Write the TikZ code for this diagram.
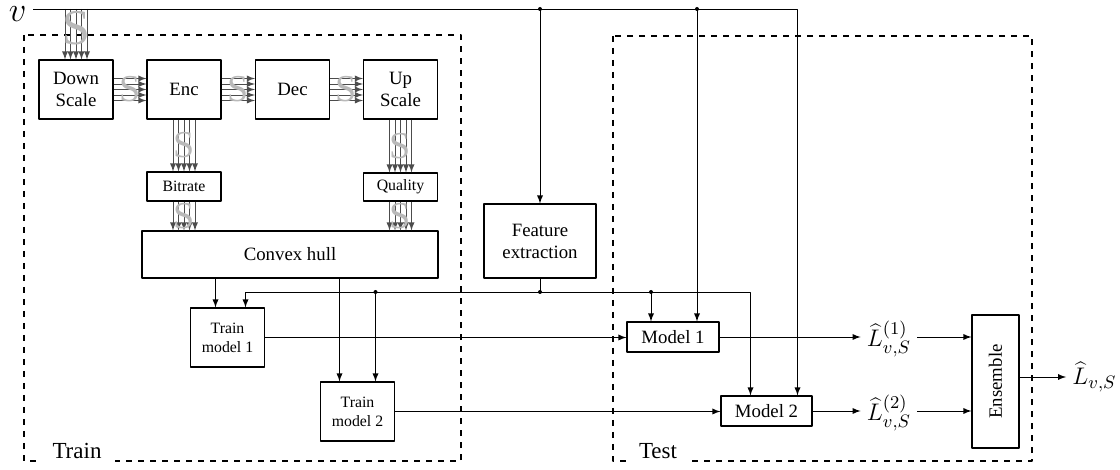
\documentclass[tikz,border=0pt]{standalone}
\usepackage{fontspec}
\setmainfont{Liberation Serif}
\begin{document}
\begin{tikzpicture}[x=0.5pt,y=-0.5pt,>=latex,font=\fontsize{9.4}{11}\selectfont,line join=round,
	blk/.style={draw,line width=0.6pt,minimum width=37pt,minimum height=29.5pt,inner sep=1pt,align=center},
	sml/.style={blk,font=\fontsize{7.9}{9.5}\selectfont},
	sl/.style={text=gray!55,font=\fontsize{19}{19}\selectfont,inner sep=0pt},
	bus/.style={->,draw=black!70,line width=0.4pt},
	grp/.style={draw,dashed,line width=0.6pt},
	tag/.style={fill=white,inner xsep=6.5pt,inner ysep=3pt,font=\fontsize{11.5}{13}\selectfont},
	lbl/.style={inner sep=3pt,font=\fontsize{13}{15}\selectfont}]
	\def\off{-5.5,-2.75,0,2.75,5.5} % bundle offsets (pt)
	\useasboundingbox (0,0) rectangle (1120,470);
	% Train / Test
	\draw[grp] (24,35) rectangle (461,461);
	\draw[grp] (613,36) rectangle (1032,461);
	\node[tag] (train) at (77,451) {Train};
	\node[tag] (test) at (658,451) {Test};
	% input
	\coordinate (vin) at (33,9);
	\node[anchor=east,inner sep=1pt,xshift=-2pt,yshift=-2.5pt,font=\fontsize{17}{17}\selectfont] (v) at (vin) {$v$};
	% blocks
	\node[blk] (ds) at (76,89.5) {Down\\Scale};
	\node[blk] (enc) at (184,89.5) {Enc};
	\node[blk] (dec) at (292.5,89.5) {Dec};
	\node[blk] (us) at (400.5,89.5) {Up\\Scale};
	\node[sml,minimum height=14.5pt] (br) at (184,186.5) {Bitrate};
	\node[sml,minimum height=14pt] (ql) at (400.5,187) {Quality};
	\node[blk,minimum width=148pt,minimum height=23.5pt] (ch) at (290,254.5) {Convex hull};
	\node[sml] (tm1) at (227.5,337.5) {Train\\model 1};
	\node[sml] (tm2) at (357.5,411.5) {Train\\model 2};
	\node[blk,minimum width=56pt,minimum height=37pt] (fe) at (540,241) {Feature\\extraction};
	\node[blk,minimum width=46pt,minimum height=15pt] (m1) at (673,337) {Model 1};
	\node[blk,minimum width=45.5pt,minimum height=15pt] (m2) at (766.5,411) {Model 2};
	\node[blk,minimum width=66.5pt,minimum height=23.5pt,rotate=90] (ens) at (995.5,381.5) {Ensemble};
	\node[lbl] (l1) at (889,339) {$\widehat{L}^{(1)}_{v,S}$};
	\node[lbl] (l2) at (889,413) {$\widehat{L}^{(2)}_{v,S}$};
	\node[lbl,anchor=west] (lo) at (1066,377) {$\widehat{L}_{v,S}$};
	% S bundles
	\coordinate (dsin) at (ds.north |- vin);
	\foreach \d in \off \draw[bus] ([xshift=\d pt]dsin) -- ([xshift=\d pt]ds.north);
	\path (dsin) -- node[sl,pos=0.38,font=\fontsize{25}{25}\selectfont]{S} (ds.north);
	\foreach \a/\b in {ds/enc,enc/dec,dec/us}{
		\foreach \d in \off \draw[bus] ([yshift=\d pt]\a.east) -- ([yshift=\d pt]\b.west);
		\path (\a.east) -- node[sl]{S} (\b.west);
	}
	\foreach \a/\b in {enc/br,us/ql}{
		\foreach \d in \off \draw[bus] ([xshift=\d pt]\a.south) -- ([xshift=\d pt]\b.north);
		\path (\a.south) -- node[sl]{S} (\b.north);
	}
	\foreach \a in {br,ql}{
		\coordinate (t) at (\a.south |- ch.north);
		\foreach \d in \off \draw[bus] ([xshift=\d pt]\a.south) -- ([xshift=\d pt]t);
		\path (\a.south) -- node[sl]{S} (t);
	}
	% taps
	\coordinate (fb) at (540,292);
	\coordinate (a1) at ([xshift=-6pt]tm1.north);
	\coordinate (b1) at ([xshift=9pt]tm1.north);
	\coordinate (a2) at ([xshift=-9pt]tm2.north);
	\coordinate (b2) at ([xshift=9pt]tm2.north);
	\coordinate (c1) at ([xshift=-11pt]m1.north);
	\coordinate (d1) at ([xshift=12pt]m1.north);
	\coordinate (c2) at ([xshift=-8pt]m2.north);
	\coordinate (d2) at ([xshift=15.5pt]m2.north);
	% v line
	\draw[->] (vin) -- (vin -| d2) -- (d2);
	\draw[->] (fe.north |- vin) -- (fe.north);
	\draw[->] (d1 |- vin) -- (d1);
	\foreach \p in {fe.north,d1} \fill (\p |- vin) circle (1pt);
	% features
	\draw (fe.south) -- (fb);
	\draw[->] (fb) -- (fb -| b1) -- (b1);
	\draw[->] (fb) -- (fb -| c2) -- (c2);
	\draw[->] (b2 |- fb) -- (b2);
	\draw[->] (c1 |- fb) -- (c1);
	\foreach \p in {fb,b2,c1} \fill (\p |- fb) circle (1pt);
	% convex hull
	\draw[->] (a1 |- ch.south) -- (a1);
	\draw[->] (a2 |- ch.south) -- (a2);
	% models
	\draw[->] (tm1.east) -- (tm1.east -| m1.west);
	\draw[->] (tm2.east) -- (tm2.east -| m2.west);
	\draw[->] (m1.east) -- (m1.east -| l1.west);
	\draw[->] (m2.east) -- (m2.east -| l2.west);
	\draw[->] (m1.east -| l1.east) -- (m1.east -| ens.north);
	\draw[->] (m2.east -| l2.east) -- (m2.east -| ens.north);
	\draw[->] (ens.south |- lo.west) -- (lo.west);
\end{tikzpicture}
\end{document}
